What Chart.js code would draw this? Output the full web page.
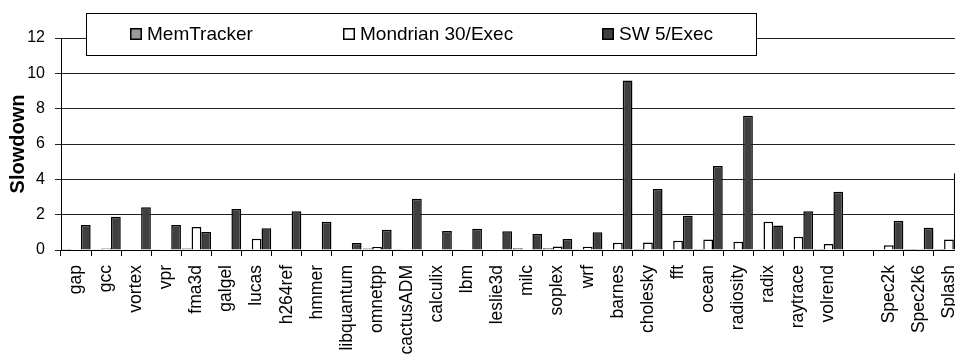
<!DOCTYPE html>
<html>
<head>
<meta charset="utf-8">
<script src="https://cdn.jsdelivr.net/npm/chart.js@4.4.1/dist/chart.umd.min.js"></script>
<style>
  html, body { margin: 0; padding: 0; background: #fff; overflow: hidden; }
  #wrap { width: 955px; height: 358px; overflow: hidden; position: relative; }
  canvas { display: block; }
</style>
</head>
<body>
<div id="wrap"><canvas id="c" width="970" height="358"></canvas></div>
<script>
// Benchmarks (blank slot separates the per-benchmark bars from the suite averages)
const categories = ['gap', 'gcc', 'vortex', 'vpr', 'fma3d', 'galgel', 'lucas', 'h264ref', 'hmmer',
  'libquantum', 'omnetpp', 'cactusADM', 'calculix', 'lbm', 'leslie3d', 'milc', 'soplex', 'wrf',
  'barnes', 'cholesky', 'fft', 'ocean', 'radiosity', 'radix', 'raytrace', 'volrend', '',
  'Spec2k', 'Spec2k6', 'Splash'];

const memTracker = [0.05, 0.04, 0.03, 0.04, 0.08, 0, 0.03, 0, 0,
  0, 0.09, 0.04, 0.03, 0.04, 0.03, 0.1, 0.1, 0.04,
  0, 0.05, 0.03, 0.06, 0.03, 0.02, 0.03, 0.06, null,
  0.03, 0.05, 0.05];

const mondrian = [0, 0.08, 0.03, 0, 1.3, 0, 0.64, 0, 0,
  0, 0.17, 0.03, 0, 0, 0, 0.03, 0.2, 0.19,
  0.41, 0.43, 0.53, 0.6, 0.47, 1.6, 0.75, 0.34, null,
  0.27, 0.05, 0.6];

const sw = [1.42, 1.88, 2.42, 1.42, 1.02, 2.32, 1.23, 2.2, 1.6,
  0.4, 1.15, 2.9, 1.08, 1.2, 1.06, 0.9, 0.62, 1.0,
  9.6, 3.45, 1.94, 4.75, 7.6, 1.38, 2.19, 3.3, null,
  1.66, 1.26, 4.35];

const yTicks = [0, 2, 4, 6, 8, 10, 12];

const FONT = '"Liberation Sans", Arial, Helvetica, sans-serif';

// Boxed legend drawn over the top of the plot area
const boxedLegend = {
  id: 'boxedLegend',
  afterDraw(chart, args, opts) {
    const ctx = chart.ctx;
    ctx.save();
    ctx.fillStyle = '#fff';
    ctx.fillRect(opts.x, opts.y, opts.w, opts.h);
    ctx.strokeStyle = '#000';
    ctx.lineWidth = 1;
    ctx.strokeRect(opts.x + 0.5, opts.y + 0.5, opts.w, opts.h);
    const cy = opts.y + opts.h / 2;
    ctx.font = opts.fontSize + 'px ' + FONT;
    ctx.textBaseline = 'middle';
    ctx.textAlign = 'left';
    chart.data.datasets.forEach((ds, i) => {
      const x = opts.itemX[i];
      const s = opts.box;
      ctx.fillStyle = ds.backgroundColor;
      ctx.fillRect(x, cy - s / 2, s, s);
      ctx.strokeStyle = '#000';
      ctx.lineWidth = 1.5;
      ctx.strokeRect(x + 0.75, cy - s / 2 + 0.75, s - 1.5, s - 1.5);
      ctx.fillStyle = '#000';
      ctx.fillText(ds.label, x + s + 5, cy + 1);
    });
    ctx.restore();
  }
};

const barStyle = { borderColor: '#000', borderWidth: 1.5, borderSkipped: 'start',
  categoryPercentage: 0.97, barPercentage: 1.0 };

new Chart(document.getElementById('c'), {
  type: 'bar',
  data: {
    labels: categories,
    datasets: [
      Object.assign({ label: 'MemTracker', data: memTracker, backgroundColor: '#9a9a9a' }, barStyle),
      Object.assign({ label: 'Mondrian 30/Exec', data: mondrian, backgroundColor: '#ffffff' }, barStyle),
      Object.assign({ label: 'SW 5/Exec', data: sw, backgroundColor: '#404040' }, barStyle)
    ]
  },
  options: {
    responsive: false,
    animation: false,
    devicePixelRatio: 1,
    layout: { padding: { top: 38, right: 6, bottom: 0, left: 0 } },
    plugins: {
      legend: { display: false },
      tooltip: { enabled: false },
      boxedLegend: { x: 86, y: 13, w: 670, h: 42, box: 12, fontSize: 19, itemX: [130, 343, 602] }
    },
    scales: {
      x: {
        offset: true,
        grid: { display: true, offset: true, drawOnChartArea: false, drawTicks: true,
          tickLength: 6, color: '#000', lineWidth: 1 },
        border: { display: true, color: '#000', width: 1 },
        ticks: { autoSkip: false, maxRotation: 90, minRotation: 90, padding: 9,
          color: '#000', font: { family: FONT, size: 17.5 } },
        afterFit(scale) {
          scale.height = 108;
          scale.paddingLeft = 0;
          scale.paddingRight = 0;
        }
      },
      y: {
        min: 0, max: 12,
        afterBuildTicks(scale) { scale.ticks = yTicks.map(v => ({ value: v })); },
        grid: { color: '#222', lineWidth: 1, drawTicks: true, tickLength: 6 },
        border: { display: true, color: '#000', width: 1 },
        ticks: { padding: 10, color: '#000', font: { family: FONT, size: 16 } },
        title: { display: true, text: 'Slowdown', color: '#000',
          font: { family: FONT, size: 20, weight: 'bold' }, padding: { top: 6, bottom: 0 } },
        afterFit(scale) {
          scale.width = 61;
          scale.paddingTop = 0;
          scale.paddingBottom = 0;
        }
      }
    }
  },
  plugins: [boxedLegend]
});
</script>
</body>
</html>
